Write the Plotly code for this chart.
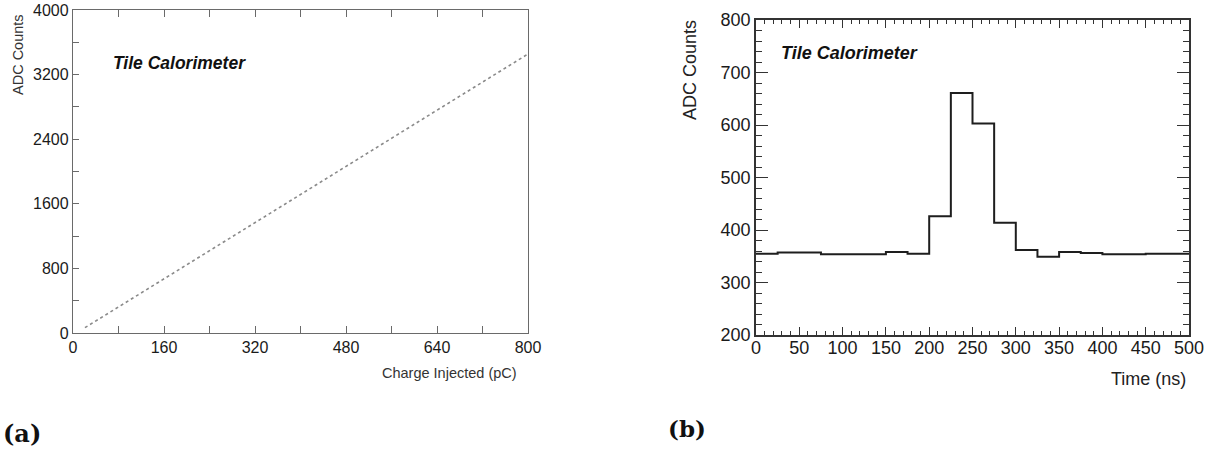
import plotly.graph_objects as go

W, H = 1209, 450

# ---- Panel (a): linearity scan ----
charge_pc = [21, 80, 160, 240, 320, 400, 480, 560, 640, 720, 800]
adc_linear = [66, 323, 671, 1019, 1367, 1715, 2063, 2411, 2759, 3107, 3455]
a_xticks = [0, 160, 320, 480, 640, 800]
a_yticks = [0, 800, 1600, 2400, 3200, 4000]

# ---- Panel (b): pulse samples (25 ns bins) ----
time_edges = [0, 25, 50, 75, 100, 125, 150, 175, 200, 225, 250,
              275, 300, 325, 350, 375, 400, 425, 450, 475, 500]
adc_pulse = [355, 357, 357, 354, 354, 354, 358, 355, 426, 661,
             603, 414, 362, 349, 358, 356, 354, 354, 355, 355]
b_xticks = [0, 50, 100, 150, 200, 250, 300, 350, 400, 450, 500]
b_yticks = [200, 300, 400, 500, 600, 700, 800]

SANS = "Liberation Sans, Arial, Helvetica, sans-serif"
SERIF = "DejaVu Serif, Liberation Serif, serif"


def px(x):
    return x / W


def py(y):
    return 1 - y / H


fig = go.Figure()
fig.add_trace(go.Scatter(
    x=charge_pc, y=adc_linear, mode="lines",
    line=dict(color="#8a8a8a", width=1.6, dash="dot"),
    xaxis="x", yaxis="y", showlegend=False, hoverinfo="skip"))
fig.add_trace(go.Scatter(
    x=time_edges, y=adc_pulse + [adc_pulse[-1]], mode="lines",
    line=dict(color="#1e1e1e", width=2, shape="hv"),
    xaxis="x2", yaxis="y2", showlegend=False, hoverinfo="skip"))

acol = "#6a6a6a"
bcol = "#333333"

fig.update_layout(
    width=W, height=H,
    margin=dict(l=0, r=0, t=0, b=0, autoexpand=False),
    paper_bgcolor="white", plot_bgcolor="white",
    font=dict(family=SANS, color="#222222"),
    xaxis=dict(
        domain=[px(73), px(528)], range=[0, 800], anchor="y", automargin=False,
        tickvals=a_xticks, ticks="inside", ticklen=7, tickcolor=acol,
        showline=True, linecolor=acol, linewidth=1.3, mirror="allticks",
        showgrid=False, zeroline=False,
        minor=dict(dtick=80, tick0=0, ticks="inside", ticklen=7, tickcolor=acol, showgrid=False),
        tickfont=dict(size=16, color="#1a1a1a"),
    ),
    yaxis=dict(
        domain=[py(333), py(10)], range=[0, 4000], anchor="x", automargin=False,
        tickvals=a_yticks, ticks="inside", ticklen=0, tickcolor=acol,
        showline=True, linecolor=acol, linewidth=1.3, mirror=True,
        showgrid=False, zeroline=False,
        minor=dict(dtick=400, tick0=0, ticks="inside", ticklen=6, tickcolor=acol, showgrid=False),
        tickfont=dict(size=16, color="#1a1a1a"),
    ),
    yaxis3=dict(
        overlaying="y", side="right", anchor="x", range=[0, 4000], automargin=False,
        tickvals=[400 * i for i in range(1, 10)], ticks="inside", ticklen=5,
        tickcolor=acol, showticklabels=False, showline=False,
        showgrid=False, zeroline=False,
    ),
    xaxis2=dict(
        domain=[px(756), px(1189)], range=[0, 500], anchor="y2", automargin=False,
        tickvals=b_xticks, ticks="inside", ticklen=8, tickcolor=bcol, tickwidth=1.3,
        showline=True, linecolor=bcol, linewidth=1.6, mirror="allticks",
        showgrid=False, zeroline=False, ticklabelstandoff=-4,
        minor=dict(dtick=10, tick0=0, ticks="inside", ticklen=4, tickcolor=bcol, tickwidth=1.2, showgrid=False),
        tickfont=dict(size=18, color="#1a1a1a"),
    ),
    yaxis2=dict(
        domain=[py(335), py(20)], range=[200, 800], anchor="x2", automargin=False,
        tickvals=b_yticks, ticks="inside", ticklen=12, tickcolor=bcol, tickwidth=1.3,
        showline=True, linecolor=bcol, linewidth=1.6, mirror="allticks",
        showgrid=False, zeroline=False,
        minor=dict(dtick=20, tick0=200, ticks="inside", ticklen=6, tickcolor=bcol, tickwidth=1.2, showgrid=False),
        tickfont=dict(size=18, color="#1a1a1a"),
    ),
)

ann = [
    dict(text="ADC Counts", x=px(17.5), y=py(54.5), textangle=-90,
         xanchor="center", yanchor="middle", font=dict(size=14.5, family=SANS, color="#333")),
    dict(text="Charge Injected (pC)", x=px(519), y=py(373),
         xanchor="right", yanchor="middle", font=dict(size=14.5, family=SANS, color="#333")),
    dict(text="<b><i>Tile Calorimeter</i></b>", x=px(111), y=py(63),
         xanchor="left", yanchor="middle", font=dict(size=17.5, family=SANS, color="#111")),
    dict(text="<b>(a)</b>", x=px(1), y=py(433),
         xanchor="left", yanchor="middle", font=dict(size=24, family=SERIF, color="#111")),
    dict(text="ADC Counts", x=px(690), y=py(70), textangle=-90,
         xanchor="center", yanchor="middle", font=dict(size=18, family=SANS, color="#222")),
    dict(text="Time (ns)", x=px(1188), y=py(379),
         xanchor="right", yanchor="middle", font=dict(size=18, family=SANS, color="#222")),
    dict(text="<b><i>Tile Calorimeter</i></b>", x=px(779), y=py(53),
         xanchor="left", yanchor="middle", font=dict(size=18, family=SANS, color="#111")),
    dict(text="<b>(b)</b>", x=px(666), y=py(428),
         xanchor="left", yanchor="middle", font=dict(size=23, family=SERIF, color="#111")),
]
for a in ann:
    a.update(xref="paper", yref="paper", showarrow=False)
fig.update_layout(annotations=ann)

fig.write_html(
    "out.html",
    config={"displayModeBar": False},
    post_script="document.body.style.margin='0';document.body.style.overflow='hidden';",
)
